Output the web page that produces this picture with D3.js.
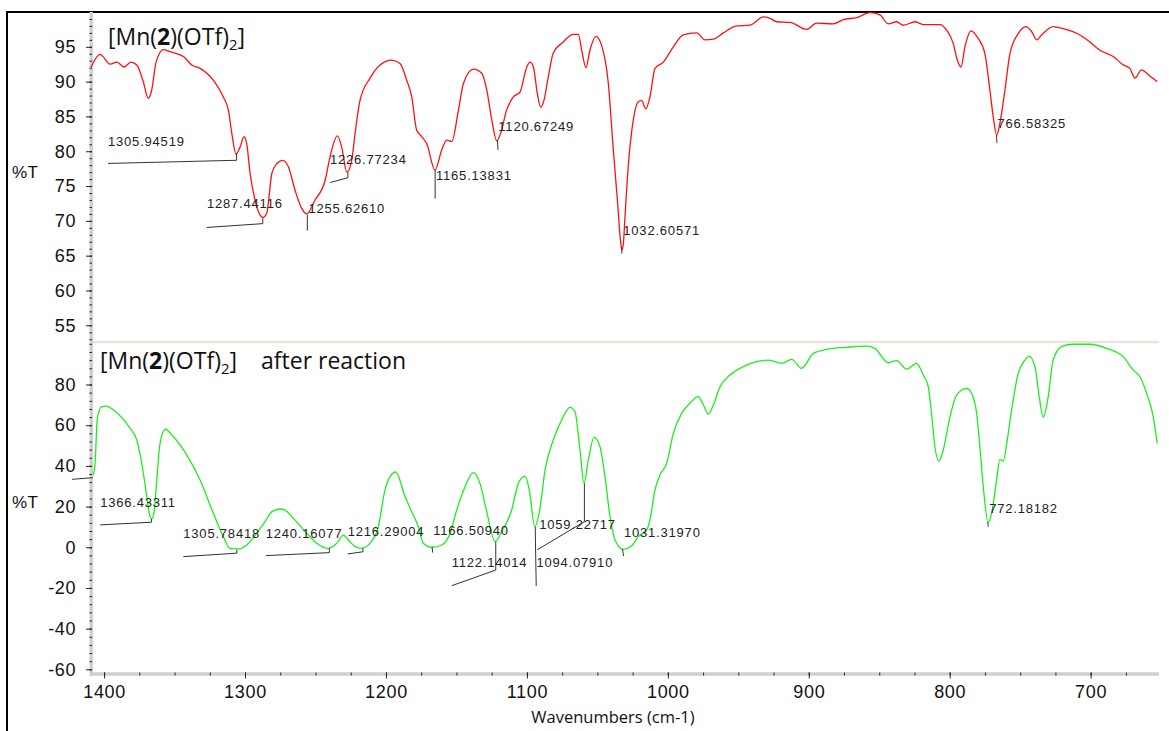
<!DOCTYPE html>
<meta charset="utf-8">
<head>
<script type="text/javascript" src="https://d3js.org/d3.v7.min.js"></script>
<style>
	body { margin: 0; background: #fff; }
	.tick text { font-family: "Liberation Sans", Arial, sans-serif; fill: #111; }
	.peak { font-family: "Liberation Sans", Arial, sans-serif; font-size: 13px; fill: #222; letter-spacing: 0.8px; }
	.title { font-family: "Open Sans", sans-serif; font-size: 23px; fill: #111; }
</style>
</head>
<body>
<div id="chart"></div>
<script>

// red spectrum: [Mn(2)(OTf)2]  (wavenumber, %T)
var redWn = [1409.2,1402.8,1395.7,1391,1385.8,1381,1376.8,1372.5,1368.6,1366.2,1363.1,1357.9,1353.2,1343.7,1337.8,1331.9,1322.5,1315.4,1311.8,1309.4,1306.4,1303.5,1300.7,1298.8,1296.4,1292.9,1287.4,1284.6,1281,1277.5,1273.3,1269.3,1264.5,1259.8,1256.2,1250.3,1243.2,1239.7,1234.5,1231.4,1227.8,1224.3,1221.9,1218.4,1211.3,1204.2,1195.9,1190,1185.3,1181.7,1178.2,1174.6,1171.1,1165.2,1160.4,1156.9,1153.3,1148.6,1145.1,1138,1132,1128.5,1124.9,1121.4,1118.6,1114.4,1109.6,1104.9,1100.1,1097.8,1095.4,1092.6,1090.2,1087.9,1084.8,1081.3,1074.2,1067.1,1063.5,1061.1,1058.1,1055.3,1051,1047,1042.2,1038.7,1035.8,1033.4,1032.6,1031.6,1030.4,1028.1,1024.5,1021,1018.6,1015.7,1012.7,1009.1,1003.2,996.1,989,979.5,973.6,967.7,960.6,951.1,941.7,932.2,927.5,922.8,913.3,901.5,894.4,882.6,875.5,866,856.6,849.5,843.6,837.7,832.9,824.6,818.8,806.9,802.2,797.5,794.6,792,789.2,784.9,779.8,775,771.5,769.1,766.6,764.4,760.8,757.3,751.4,745.9,741.9,738.3,734.8,726.6,719.5,707.6,700.5,693.4,684,676.9,672.2,668.6,663.9,658,652.8];
var redT = [92.1,93.9,92.5,92.8,92.1,92.8,92.4,90.2,87.6,88.8,92.8,94.6,94.3,93.6,92.4,91.9,90.2,87.8,85.9,82.6,79.6,80.6,82.1,81.1,76.8,73.0,70.5,71.1,76.8,78.2,78.7,77.8,74.4,71.8,71.0,73.0,75.8,79.2,82.2,80.6,77.0,78.7,82.6,87.3,90.5,92.4,93.1,92.6,90.2,87.8,83.0,82.1,81.1,77.3,80.2,81.6,81.4,85.9,89.7,91.8,91.2,88.8,84.5,81.5,82.6,85.9,87.8,88.5,92.1,92.8,92.1,88.3,86.3,87.3,90.7,94.1,95.7,96.8,96.8,94.5,92.0,94.5,96.5,95.2,89.7,80.2,73.0,66.8,65.8,66.6,70.6,77.8,84.5,87.1,87.3,86.1,87.8,91.9,92.8,95.0,96.7,97.0,96.0,96.1,97.0,98.0,98.1,99.3,99.1,98.6,98.5,97.5,98.4,98.3,98.9,99.2,99.9,99.6,98.3,98.6,98.1,98.6,98.2,98.2,97.4,95.5,93.1,92.1,95.0,97.3,96.2,94.0,88.8,84.9,82.3,84.0,88.8,94.0,96.9,97.9,97.2,96.0,96.7,97.9,97.6,96.7,95.7,94.5,93.6,92.4,91.9,90.5,91.7,90.8,90.0];

// green spectrum: after reaction
var greenWn = [1407.6,1406.4,1404.8,1401.7,1398.1,1393.4,1381.6,1376.8,1373.3,1369.7,1367.9,1366.2,1364.5,1362.6,1360.3,1356.7,1350.8,1341.4,1331.9,1322.5,1315.4,1310.6,1303.5,1298.8,1291.7,1285.8,1281,1275.1,1271.6,1265.7,1256.2,1249.1,1240.9,1234.9,1230.2,1226.7,1221.9,1217.2,1211.3,1205.4,1200.7,1197.1,1193,1186.5,1181.7,1177,1173.5,1167.5,1160.4,1154.5,1149.8,1143.9,1138,1133.3,1128.5,1122.6,1117.9,1110.8,1106.1,1101.3,1098.3,1094.4,1090.7,1087.1,1081.3,1075.3,1069.4,1065.9,1062.3,1059.5,1056.4,1052.4,1048.1,1044.6,1041,1037.5,1031.6,1025.7,1021,1015,1012.7,1009.1,1005.6,1000.8,996.1,990.2,984.3,978.4,975.3,971.3,967.7,963,955.9,946.4,937,928.7,919.2,912.1,905.1,896.8,887.3,873.2,859,853.1,843.6,837.7,830.6,823.5,818.8,815.2,812.9,810.5,807.7,804.6,799.8,795.1,788,784.5,780.9,778.6,776.2,772.7,770.3,766.7,764.4,762,759.2,756.1,751.4,746.6,743.6,739.5,736.5,733.6,730.1,726.6,720.6,712.4,700.5,688.7,676.9,669.8,665,660.3,655.6,652.8];
var greenT = [35.5,41.3,63.4,69.1,69.4,67.5,58.5,52.7,41.3,24.9,16.7,13.8,17.5,33.1,51.1,58.0,54.3,45.4,33.1,16.7,5.2,-0.5,-0.8,1.1,6.9,12.6,17.5,18.8,18.3,14.2,6.9,2.0,-0.5,2.0,6.0,3.6,0.3,-0.5,2.0,10.1,28.2,34.7,37.0,24.9,17.5,10.1,2.0,0.0,1.1,6.9,18.3,29.8,36.7,31.4,17.5,2.8,7.7,18.3,31.4,35.0,28.2,10.1,19.2,38.0,52.7,62.6,68.8,66.6,47.8,31.4,42.9,54.0,49.4,34.7,15.0,3.6,-1.0,0.6,5.2,8.5,13.4,28.2,35.5,41.3,56.0,65.8,70.8,74.0,70.8,65.5,69.9,78.9,84.7,88.8,91.2,92.0,90.4,92.4,88.0,95.3,97.3,98.3,98.9,97.8,90.7,91.7,87.6,90.4,84.7,78.9,65.8,49.4,42.4,47.8,64.2,74.8,78.1,75.7,65.8,49.4,29.8,12.1,16.7,33.1,43.2,42.4,52.7,67.5,85.5,92.0,94.0,88.8,74.0,63.9,74.0,92.0,98.6,99.8,99.8,97.8,93.7,87.1,83.8,75.7,64.2,51.1];

// axis ticks
var xTicks = [1400,1300,1200,1100,1000,900,800,700];
var xMinor = d3.range(1400, 650, -25);
var yTicksTop = [55,60,65,70,75,80,85,90,95];
var yMinorTop = d3.range(53, 100, 1);
var yTicksBottom = [-60,-40,-20,0,20,40,60,80];
var yMinorBottom = d3.range(-60, 101, 4);

// peak picks, upper panel: label, label anchor (wn, %T), leader polyline
var redPeaks = ["1305.94519","1287.44116","1255.62610","1226.77234","1165.13831","1120.67249","1032.60571","766.58325"];
var redLabelWn = [1397.2,1327.0,1255.0,1239.7,1164.5,1120.3,1031.6,766.1];
var redLabelT = [80.8,71.8,71.15,78.1,75.85,82.9,67.95,83.3];
var redLeaders = [
	[[1397.2,78.25],[1306.0,78.7],[1306.0,79.7]],
	[[1327.2,69.05],[1287.4,69.6],[1287.4,70.5]],
	[[1255.8,70.9],[1255.8,68.6]],
	[[1239.7,75.5],[1227.0,76.2],[1227.0,77.0]],
	[[1165.1,77.3],[1165.1,73.2]],
	[[1120.9,81.6],[1120.5,80.2]],
	[[1032.8,66.3],[1032.6,65.3]],
	[[766.8,82.3],[766.5,81.2]]
];

// peak picks, lower panel
var greenPeaks = ["1366.43311","1305.78418","1240.16077","1216.29004","1166.50940","1122.14014","1094.07910","1059.22717","1031.31970","772.18182"];
var greenLabelWn = [1402.8,1343.8,1285.3,1227.2,1166.5,1153.4,1093.2,1091.3,1031.1,772.0];
var greenLabelT = [19.95,4.4,4.6,5.3,6.0,-9.5,-9.5,8.85,5.2,17.0];
var greenLeaders = [
	[[1422.7,33.4],[1407.8,34.2]],
	[[1402.8,11.0],[1366.4,12.3],[1366.4,13.9]],
	[[1343.8,-4.6],[1305.8,-2.9],[1305.8,-1.2]],
	[[1285.3,-4.1],[1240.2,-2.65],[1240.2,-0.5]],
	[[1227.2,-3.3],[1216.3,-2.2],[1216.3,-0.5]],
	[[1167.3,0.15],[1166.8,-2.65]],
	[[1153.4,-18.9],[1122.1,-11.2],[1122.1,2.75]],
	[[1094.1,10.1],[1093.4,-19.0]],
	[[1092.8,-1.3],[1059.2,12.6],[1059.2,31.4]],
	[[1032.2,-0.8],[1031.4,-4.3]],
	[[773.0,12.4],[772.6,10.1]]
];

var width = 1169, height = 731;

var svg = d3.select("#chart").append("svg")
	.attr("width", width)
	.attr("height", height);

// scales
var x = d3.scaleLinear().domain([1410, 651.5]).range([90, 1159]);
var yTop = d3.scaleLinear().domain([52.6, 100]).range([342, 12]);
var yBot = d3.scaleLinear().domain([-62.3, 100.9]).range([674, 342]);

// plain number labels (no thousands comma, ascii minus)
var plain = function(d) { return String(d); };

// outer frame (left and top edges visible)
svg.append("line").attr("x1", 7).attr("y1", 12).attr("x2", 7).attr("y2", height)
	.attr("stroke", "#000").attr("stroke-width", 2);
svg.append("line").attr("x1", 6).attr("y1", 12).attr("x2", width).attr("y2", 12)
	.attr("stroke", "#000").attr("stroke-width", 2);

// panel divider
svg.append("line").attr("x1", 93).attr("x2", 1159).attr("y1", 342).attr("y2", 342)
	.attr("stroke", "#e9e6d8").attr("stroke-width", 2.5);

// axis bands
svg.append("line").attr("x1", 91.3).attr("x2", 91.3).attr("y1", 12).attr("y2", 676)
	.attr("stroke", "#cfcfcf").attr("stroke-width", 3.5);
svg.append("line").attr("x1", 90).attr("x2", 1159).attr("y1", 674).attr("y2", 674)
	.attr("stroke", "#cfcfcf").attr("stroke-width", 3.5);

function styleAxis(g) {
	g.select(".domain").remove();
	g.selectAll(".tick line").attr("stroke", "#222");
}

// y axes
function drawY(scale, major, minor) {
	svg.append("g").attr("transform", "translate(92,0)")
		.call(d3.axisLeft(scale).tickValues(minor).tickSize(2.5).tickFormat(""))
		.call(styleAxis);
	var g = svg.append("g").attr("transform", "translate(92,0)")
		.call(d3.axisLeft(scale).tickValues(major).tickSize(6).tickPadding(10).tickFormat(plain))
		.call(styleAxis);
	g.selectAll(".tick text").style("font-size", "18px").style("letter-spacing", "0.6px");
}
drawY(yTop, yTicksTop, yMinorTop);
drawY(yBot, yTicksBottom, yMinorBottom);

// x axis
svg.append("g").attr("transform", "translate(0,672.5)")
	.call(d3.axisBottom(x).tickValues(xMinor).tickSize(3).tickFormat(""))
	.call(styleAxis);
var gx = svg.append("g").attr("transform", "translate(0,672.5)")
	.call(d3.axisBottom(x).tickValues(xTicks).tickSize(6).tickFormat(plain))
	.call(styleAxis);
gx.selectAll(".tick text").attr("dy", null).attr("y", 25.5)
	.style("font-size", "18px").style("letter-spacing", "0.7px");

svg.append("text")
	.attr("x", 613).attr("y", 723)
	.attr("text-anchor", "middle")
	.style("font-family", "Open Sans, sans-serif")
	.style("font-size", "16.5px")
	.style("fill", "#111")
	.text("Wavenumbers (cm-1)");

// %T labels
[yTop(77), yBot(22)].forEach(function(yy) {
	svg.append("text").attr("x", 12).attr("y", yy)
		.attr("dominant-baseline", "central")
		.style("font-family", "Liberation Sans, Arial, sans-serif")
		.style("font-size", "17px").style("letter-spacing", "0.4px")
		.style("fill", "#111")
		.text("%T");
});

// panel titles
function title(xx, yy, extra) {
	var t = svg.append("text").attr("class", "title").attr("x", xx).attr("y", yy);
	t.append("tspan").text("[Mn(");
	t.append("tspan").style("font-weight", "bold").text("2");
	t.append("tspan").text(")(OTf)");
	t.append("tspan").attr("dy", 5).style("font-size", "15px").text("2");
	t.append("tspan").attr("dy", -5).text("]");
	if (extra) t.append("tspan").attr("x", 261).text(extra);
}
title(108, 45, null);
title(100, 369, "after reaction");

// spectra
function spectrum(wn, tv, scale, color) {
	var pts = wn.map(function(w, i) { return [w, tv[i]]; });
	var line = d3.line()
		.x(function(d) { return x(d[0]); })
		.y(function(d) { return scale(d[1]); })
		.curve(d3.curveMonotoneX);
	svg.append("path").datum(pts)
		.attr("d", line)
		.attr("fill", "none")
		.attr("stroke", color)
		.attr("stroke-width", 1.3);
}
spectrum(redWn, redT, yTop, "#ff1010");
spectrum(greenWn, greenT, yBot, "#1bf01b");

// peak annotations
function peaks(labels, lw, lt, leaders, scale) {
	var l = d3.line().x(function(d) { return x(d[0]); }).y(function(d) { return scale(d[1]); });
	leaders.forEach(function(p) {
		svg.append("path").attr("d", l(p)).attr("fill", "none")
			.attr("stroke", "#333").attr("stroke-width", 1);
	});
	labels.forEach(function(s, i) {
		svg.append("text").attr("class", "peak")
			.attr("x", x(lw[i])).attr("y", scale(lt[i]))
			.text(s);
	});
}
peaks(redPeaks, redLabelWn, redLabelT, redLeaders, yTop);
peaks(greenPeaks, greenLabelWn, greenLabelT, greenLeaders, yBot);

</script>
</body>
</html>
